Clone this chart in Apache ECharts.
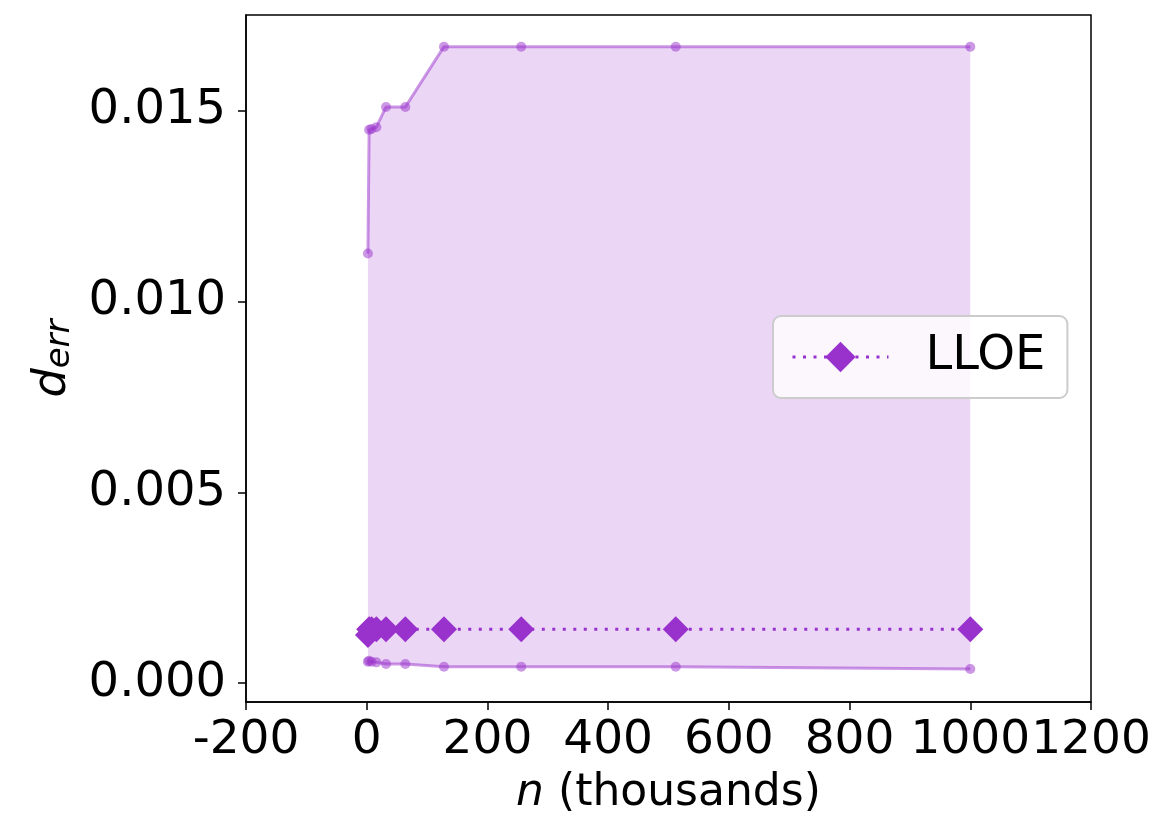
<!DOCTYPE html>
<html>
<head>
<meta charset="utf-8">
<script src="https://cdn.jsdelivr.net/npm/echarts@6/dist/echarts.min.js"></script>
<style>
  html, body { margin: 0; padding: 0; background: #fff; }
  #chart { width: 1163px; height: 825px; }
</style>
</head>
<body>
<div id="chart"></div>
<script>
//////////////////////////////////////////////////////////////////
// [ Data ]

var nValues = [2, 4, 8, 16, 32, 64, 128, 256, 512, 1000];
var lloeMean = [0.00126, 0.00141, 0.00141, 0.00141, 0.00141, 0.00141, 0.00141, 0.00141, 0.00141, 0.00141];
var lloeUpper = [0.01126, 0.01450, 0.01452, 0.01457, 0.01510, 0.01510, 0.01668, 0.01668, 0.01668, 0.01668];
var lloeLower = [0.000558, 0.000584, 0.000560, 0.000542, 0.000497, 0.000497, 0.000427, 0.000427, 0.000427, 0.000366];
var yTicks = [0, 0.005, 0.010, 0.015];

//////////////////////////////////////////////////////////////////
// [ Chart ]

var purple = '#9932cc';
var purpleHalf = 'rgba(153, 50, 204, 0.5)';
var font = 'DejaVu Sans';

function pairs(ys) {
    return nValues.map(function (x, i) { return [x, ys[i]]; });
}

var chart = echarts.init(document.getElementById('chart'));

var options = {
    animation: false,
    textStyle: { fontFamily: font },
    grid: {
        left: 246, right: 72, top: 15, bottom: 123,
        outerBoundsMode: 'none', containLabel: false,
        show: true, borderColor: '#000', borderWidth: 1.5, backgroundColor: 'transparent'
    },
    legend: {
        data: ['LLOE'],
        left: 773, top: 316,
        orient: 'vertical',
        padding: [17, 22, 17, 18],
        backgroundColor: 'rgba(255,255,255,0.8)',
        borderColor: '#cccccc', borderWidth: 2, borderRadius: 8,
        itemWidth: 96, itemHeight: 38,
        lineStyle: { width: 3, type: [3, 7.5], cap: 'butt' },
        textStyle: { fontSize: 48, color: '#000', fontFamily: font, padding: [0, 0, 0, 32] }
    },
    xAxis: {
        type: 'value',
        min: -200, max: 1200, interval: 200,
        name: '{i|n} (thousands)',
        nameLocation: 'middle', nameGap: 70,
        nameTextStyle: {
            fontSize: 44, color: '#000', fontFamily: font,
            rich: { i: { fontSize: 44, fontStyle: 'italic', fontFamily: font, color: '#000' } }
        },
        splitLine: { show: false },
        axisLine: { show: true, onZero: false, lineStyle: { color: '#000', width: 1.5 } },
        axisTick: { show: true, length: 8, lineStyle: { color: '#000', width: 1.5 } },
        axisLabel: {
            fontSize: 47, color: '#000', margin: 15, fontFamily: font,
            showMinLabel: true, showMaxLabel: true, hideOverlap: false,
            formatter: function (v) { return String(v); }
        }
    },
    yAxis: {
        type: 'value',
        min: -0.000497, max: 0.01751,
        name: '{d|d}{s|err}',
        nameLocation: 'middle', nameGap: 169,
        nameTextStyle: {
            fontSize: 44, color: '#000', fontFamily: font,
            rich: {
                d: { fontSize: 46, fontStyle: 'italic', fontFamily: font, color: '#000' },
                s: { fontSize: 34, fontStyle: 'italic', fontFamily: font, color: '#000', padding: [14, 0, 0, 0] }
            }
        },
        splitLine: { show: false },
        axisLine: { show: true, onZero: false, lineStyle: { color: '#000', width: 1.5 } },
        axisTick: { show: true, length: 8, customValues: yTicks, lineStyle: { color: '#000', width: 1.5 } },
        axisLabel: {
            fontSize: 48, color: '#000', margin: 20, fontFamily: font,
            customValues: yTicks,
            formatter: function (v) { return v.toFixed(3); }
        }
    },
    series: [
        {
            // band between lower and upper
            name: 'band',
            type: 'custom',
            silent: true,
            z: 1,
            data: nValues.map(function (x, i) { return [x, lloeLower[i], lloeUpper[i]]; }),
            encode: { x: 0, y: [1, 2] },
            renderItem: function (params, api) {
                if (params.dataIndex !== 0) return;
                var pts = [];
                nValues.forEach(function (x, i) { pts.push(api.coord([x, lloeUpper[i]])); });
                for (var i = nValues.length - 1; i >= 0; i--) pts.push(api.coord([nValues[i], lloeLower[i]]));
                return {
                    type: 'polygon',
                    shape: { points: pts },
                    style: { fill: 'rgba(153, 50, 204, 0.2)' }
                };
            }
        },
        {
            name: 'upper',
            type: 'line',
            z: 2,
            data: pairs(lloeUpper),
            symbol: 'circle', symbolSize: 10, showAllSymbol: true,
            lineStyle: { color: purpleHalf, width: 3 },
            itemStyle: { color: purpleHalf, borderWidth: 0 }
        },
        {
            name: 'lower',
            type: 'line',
            z: 2,
            data: pairs(lloeLower),
            symbol: 'circle', symbolSize: 10, showAllSymbol: true,
            lineStyle: { color: purpleHalf, width: 3 },
            itemStyle: { color: purpleHalf, borderWidth: 0 }
        },
        {
            name: 'LLOE',
            type: 'line',
            z: 3,
            data: pairs(lloeMean),
            symbol: 'diamond', symbolSize: 26, showAllSymbol: true,
            lineStyle: { color: purple, width: 3, type: [3, 7.5], cap: 'butt' },
            itemStyle: { color: purple, borderWidth: 0 }
        }
    ]
};

chart.setOption(options);
</script>
</body>
</html>
